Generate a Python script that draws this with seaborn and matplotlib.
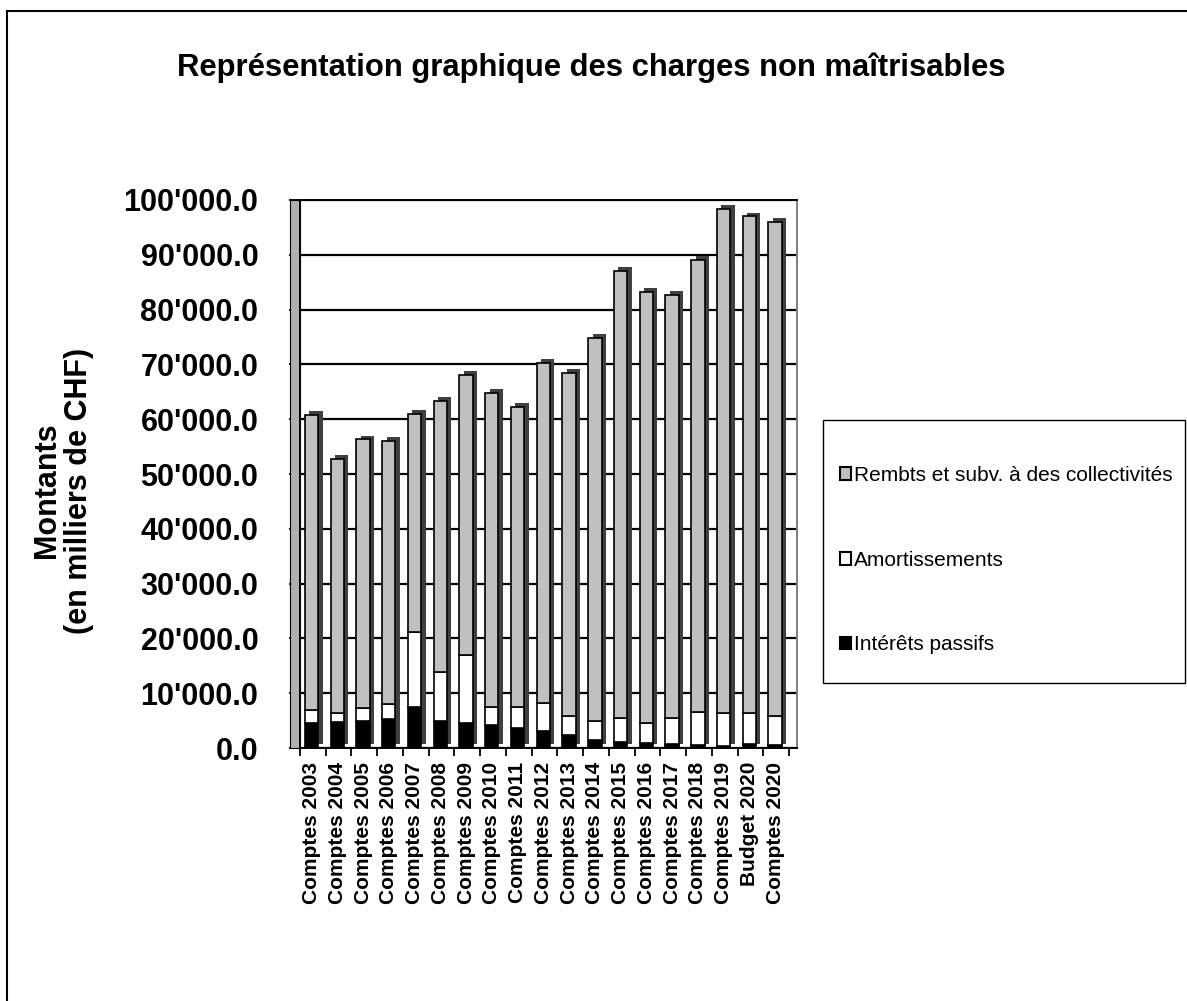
import numpy as np
import pandas as pd
import matplotlib
matplotlib.use('Agg')
import matplotlib.pyplot as plt
import matplotlib.patheffects as pe
from matplotlib.patches import Patch, Rectangle
import seaborn as sns

# Données (en milliers de CHF)
periodes = ['Comptes 2003', 'Comptes 2004', 'Comptes 2005', 'Comptes 2006', 'Comptes 2007',
            'Comptes 2008', 'Comptes 2009', 'Comptes 2010', 'Comptes 2011', 'Comptes 2012',
            'Comptes 2013', 'Comptes 2014', 'Comptes 2015', 'Comptes 2016', 'Comptes 2017',
            'Comptes 2018', 'Comptes 2019', 'Budget 2020', 'Comptes 2020']
interets = [4500, 4700, 4900, 5300, 7400, 4900, 4600, 4200, 3600, 3200,
            2400, 1500, 1100, 900, 700, 500, 400, 800, 500]
amortissements = [2400, 1700, 2400, 2700, 13800, 9000, 12400, 3300, 3900, 5000,
                  3400, 3400, 4400, 3700, 4800, 6100, 6000, 5600, 5300]
rembts = [53900, 46300, 49000, 48100, 39800, 49400, 51000, 57300, 54700, 62100,
          62600, 69900, 81500, 78600, 77100, 82400, 91900, 90600, 90200]
y_ticks = list(range(0, 100001, 10000))

df = pd.DataFrame({'Periode': periodes, 'Interets': interets,
                   'Amortissements': amortissements, 'Rembts': rembts})
df['base_amort'] = df['Interets']
df['base_rembts'] = df['Interets'] + df['Amortissements']

sns.set_style('white')
plt.rcParams['font.family'] = ['Liberation Sans', 'DejaVu Sans']
plt.rcParams['text.color'] = 'black'
plt.rcParams['xtick.color'] = 'black'
plt.rcParams['ytick.color'] = 'black'
plt.rcParams['axes.labelcolor'] = 'black'

fig = plt.figure(figsize=(11.87, 10.01), dpi=100)
ax = fig.add_axes([0.2527, 0.2527, 0.4187, 0.5475])

# Effet 3D simple : une ombre décalée simule la profondeur des barres
depth = [pe.SimplePatchShadow(offset=(3.2, 2.8), shadow_rgbFace='#404040', alpha=1.0), pe.Normal()]

layers = [('Interets', None, 'black'),
          ('Amortissements', 'base_amort', 'white'),
          ('Rembts', 'base_rembts', '#C0C0C0')]
for col, base, color in layers:
    kws = {}
    if base is not None:
        kws['bottom'] = df[base].values
    sns.barplot(data=df, x='Periode', y=col, color=color, edgecolor='black',
                linewidth=1.2, width=0.52, saturation=1, ax=ax, zorder=3, **kws)
    for bar in ax.containers[-1]:
        bar.set_path_effects(depth)

ax.set_xlim(-0.27, 18.85)
ax.set_ylim(0, 100000)
ax.set_yticks(y_ticks)
ax.set_yticklabels([f"{v:,.1f}".replace(',', "'") for v in y_ticks],
                   fontsize=22, fontweight='bold')
ax.yaxis.grid(True, color='black', linewidth=1.6, zorder=0)
ax.set_axisbelow(True)
ax.tick_params(axis='y', length=8, width=1.3, color='black', pad=22, left=True)
ax.tick_params(axis='x', length=0, pad=10)
ax.set_xticks(range(len(periodes)))
ax.set_xticklabels(periodes, rotation=90, fontsize=15, fontweight='bold')
ax.set_xticks(np.arange(len(periodes) + 1) - 0.45, minor=True)
ax.tick_params(axis='x', which='minor', length=6, width=1.3, color='black', bottom=True)
ax.set_xlabel('')
ax.set_ylabel('')
for side in ['top', 'right', 'left', 'bottom']:
    ax.spines[side].set_color('black')
    ax.spines[side].set_linewidth(1.4)
ax.spines['right'].set_color('#808080')

# mur gauche gris
ax.add_patch(Rectangle((-0.02, 0), 0.02, 1.0, transform=ax.transAxes, facecolor='#B0B0B0',
                       edgecolor='black', linewidth=0.8, clip_on=False, zorder=1))

fig.text(0.498, 1 - 68 / 1001, 'Représentation graphique des charges non maîtrisables',
         ha='center', va='center', fontsize=22.3, fontweight='bold')
fig.text(0.053, 0.51, 'Montants\n(en milliers de CHF)', rotation=90, ha='center', va='center',
         fontsize=22, fontweight='bold', linespacing=1.1)

# cadre de la légende
fig.patches.append(Rectangle((823 / 1187, 1 - 683 / 1001), 362 / 1187, 263 / 1001,
                             transform=fig.transFigure, fill=False, edgecolor='black', linewidth=1.0))
handles = [Patch(facecolor='#C0C0C0', edgecolor='black', linewidth=1.5),
           Patch(facecolor='white', edgecolor='black', linewidth=1.5),
           Patch(facecolor='black', edgecolor='black', linewidth=1.5)]
labels = ['Rembts et subv. à des collectivités', 'Amortissements', 'Intérêts passifs']
fig.legend(handles, labels, loc='upper left', bbox_to_anchor=(840 / 1187, 1 - 466 / 1001),
           fontsize=15, frameon=False, borderpad=0.0, labelspacing=3.15,
           handlelength=0.55, handleheight=0.55, handletextpad=0.12, borderaxespad=0.0)

# cadre extérieur
fig.patches.append(Rectangle((7 / 1187, -0.1), 1.2, 1.089, transform=fig.transFigure,
                             fill=False, edgecolor='black', linewidth=1.5))

fig.savefig('out.png', dpi=100)
